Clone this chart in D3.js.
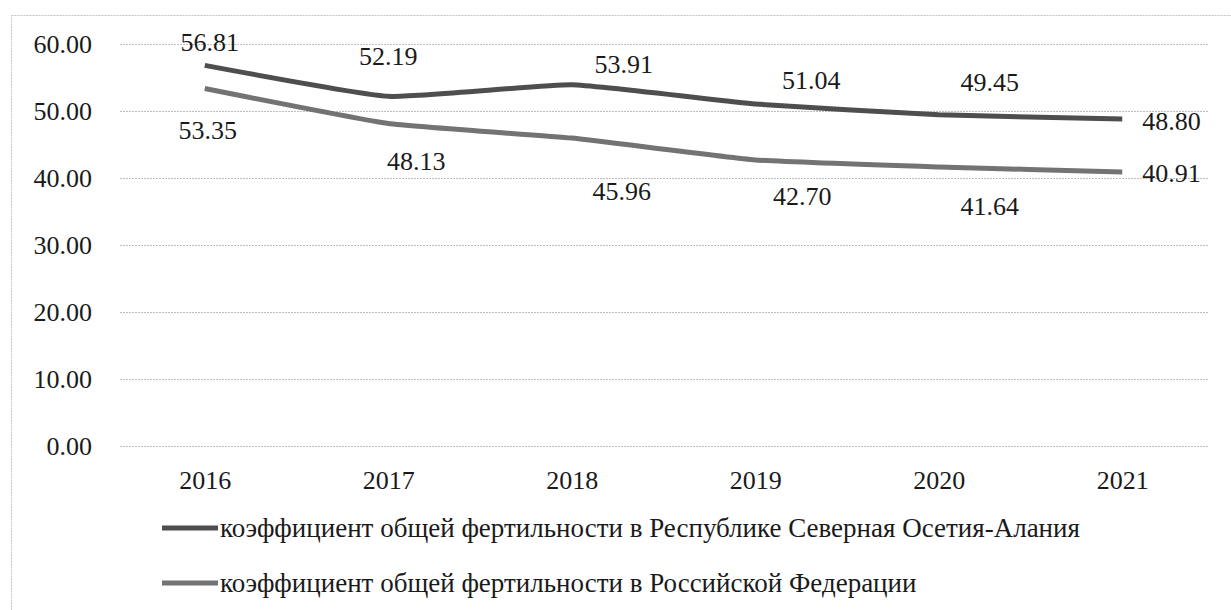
<!DOCTYPE html>
<meta charset="utf-8">
<head>
<style>
body {
  margin: 0;
  background-color: #fff;
}
text {
  font-family: 'Liberation Serif', 'Times New Roman', Times, Tinos, 'DejaVu Serif', 'Noto Serif', serif;
  font-size: 26px;
  fill: #1a1a1a;
}
.legend text {
  font-size: 27px;
}
.grid line {
  stroke: #bdbdbd;
  stroke-width: 1;
  stroke-dasharray: 2,1;
}
</style>
<script src="https://d3js.org/d3.v7.min.js"></script>
</head>
<body>
<svg id="chart"></svg>
<script>

var years = ['2016', '2017', '2018', '2019', '2020', '2021']
var osetia = [56.81, 52.19, 53.91, 51.04, 49.45, 48.80]
var russia = [53.35, 48.13, 45.96, 42.70, 41.64, 40.91]
var yTicks = [0, 10, 20, 30, 40, 50, 60]
var seriesNames = [
  'коэффициент общей фертильности в Республике Северная Осетия-Алания',
  'коэффициент общей фертильности в Российской Федерации'
]

// where Excel put each value label, relative to its point
var osetiaLabelDx = [5, 0, 52, 56, 51, 20]
var osetiaLabelDy = [-23, -40, -21, -24, -33, 2]
var russiaLabelDx = [3, 28, 50, 47, 51, 20]
var russiaLabelDy = [41, 37, 53, 36, 39, 1]

var width = 1231
var height = 610
var serif = "'Liberation Serif', 'Times New Roman', Times, Tinos, 'DejaVu Serif', 'Noto Serif', serif"

var svg = d3.select('#chart')
  .attr('width', width)
  .attr('height', height)
  .attr('font-family', serif)

// outer frame (dotted, runs off the right and bottom)
svg.append('rect')
  .attr('x', 11.5)
  .attr('y', 15.5)
  .attr('width', 1240)
  .attr('height', 640)
  .attr('fill', 'none')
  .attr('stroke', '#c4c4c4')
  .attr('stroke-dasharray', '2,1')

var x = d3.scalePoint()
  .domain(years)
  .range([113, 1214])
  .padding(0.5)

var y = d3.scaleLinear()
  .domain([0, 60])
  .range([446, 44])

// gridlines
svg.append('g')
  .attr('class', 'grid')
  .selectAll('line')
  .data(yTicks)
  .enter().append('line')
  .attr('x1', 120)
  .attr('x2', 1208)
  .attr('y1', function (d) { return Math.round(y(d)) + 0.5 })
  .attr('y2', function (d) { return Math.round(y(d)) + 0.5 })

// y axis labels
var yAxis = svg.append('g')
  .attr('transform', 'translate(92,0)')
  .call(d3.axisLeft(y).tickValues(yTicks).tickFormat(d3.format('.2f')).tickSize(0).tickPadding(0))
yAxis.select('.domain').remove()
yAxis.attr('font-family', serif).attr('font-size', 26)
yAxis.selectAll('text')
  .attr('fill', null)
  .attr('dy', '0.33em')

// x axis labels
var xAxis = svg.append('g')
  .attr('transform', 'translate(0,470)')
  .call(d3.axisBottom(x).tickSize(0).tickPadding(0))
xAxis.select('.domain').remove()
xAxis.attr('font-family', serif).attr('font-size', 26)
xAxis.selectAll('text')
  .attr('fill', null)
  .attr('dy', '0.72em')

var line = d3.line()
  .x(function (d, i) { return x(years[i]) })
  .y(function (d) { return y(d) })
  .curve(d3.curveCardinal.tension(0.6))

var series = [
  {values: osetia, color: '#4e4e4e', dx: osetiaLabelDx, dy: osetiaLabelDy},
  {values: russia, color: '#737373', dx: russiaLabelDx, dy: russiaLabelDy}
]

series.forEach(function (s) {
  svg.append('path')
    .datum(s.values)
    .attr('d', line)
    .attr('fill', 'none')
    .attr('stroke', s.color)
    .attr('stroke-width', 5)

  svg.append('g')
    .selectAll('text')
    .data(s.values)
    .enter().append('text')
    .attr('x', function (d, i) { return x(years[i]) + s.dx[i] })
    .attr('y', function (d, i) { return y(d) + s.dy[i] })
    .attr('dy', '0.35em')
    .attr('text-anchor', function (d, i) { return i === years.length - 1 ? 'start' : 'middle' })
    .text(function (d) { return d.toFixed(2) })
})

// legend
var legend = svg.append('g')
  .attr('class', 'legend')
  .selectAll('g')
  .data(seriesNames)
  .enter().append('g')
  .attr('transform', function (d, i) { return 'translate(0,' + (528 + i * 55) + ')' })

legend.append('line')
  .attr('x1', 162)
  .attr('x2', 218)
  .attr('stroke', function (d, i) { return series[i].color })
  .attr('stroke-width', 5)

legend.append('text')
  .attr('x', 220)
  .attr('dy', '0.35em')
  .text(function (d) { return d })

</script>
</body>
